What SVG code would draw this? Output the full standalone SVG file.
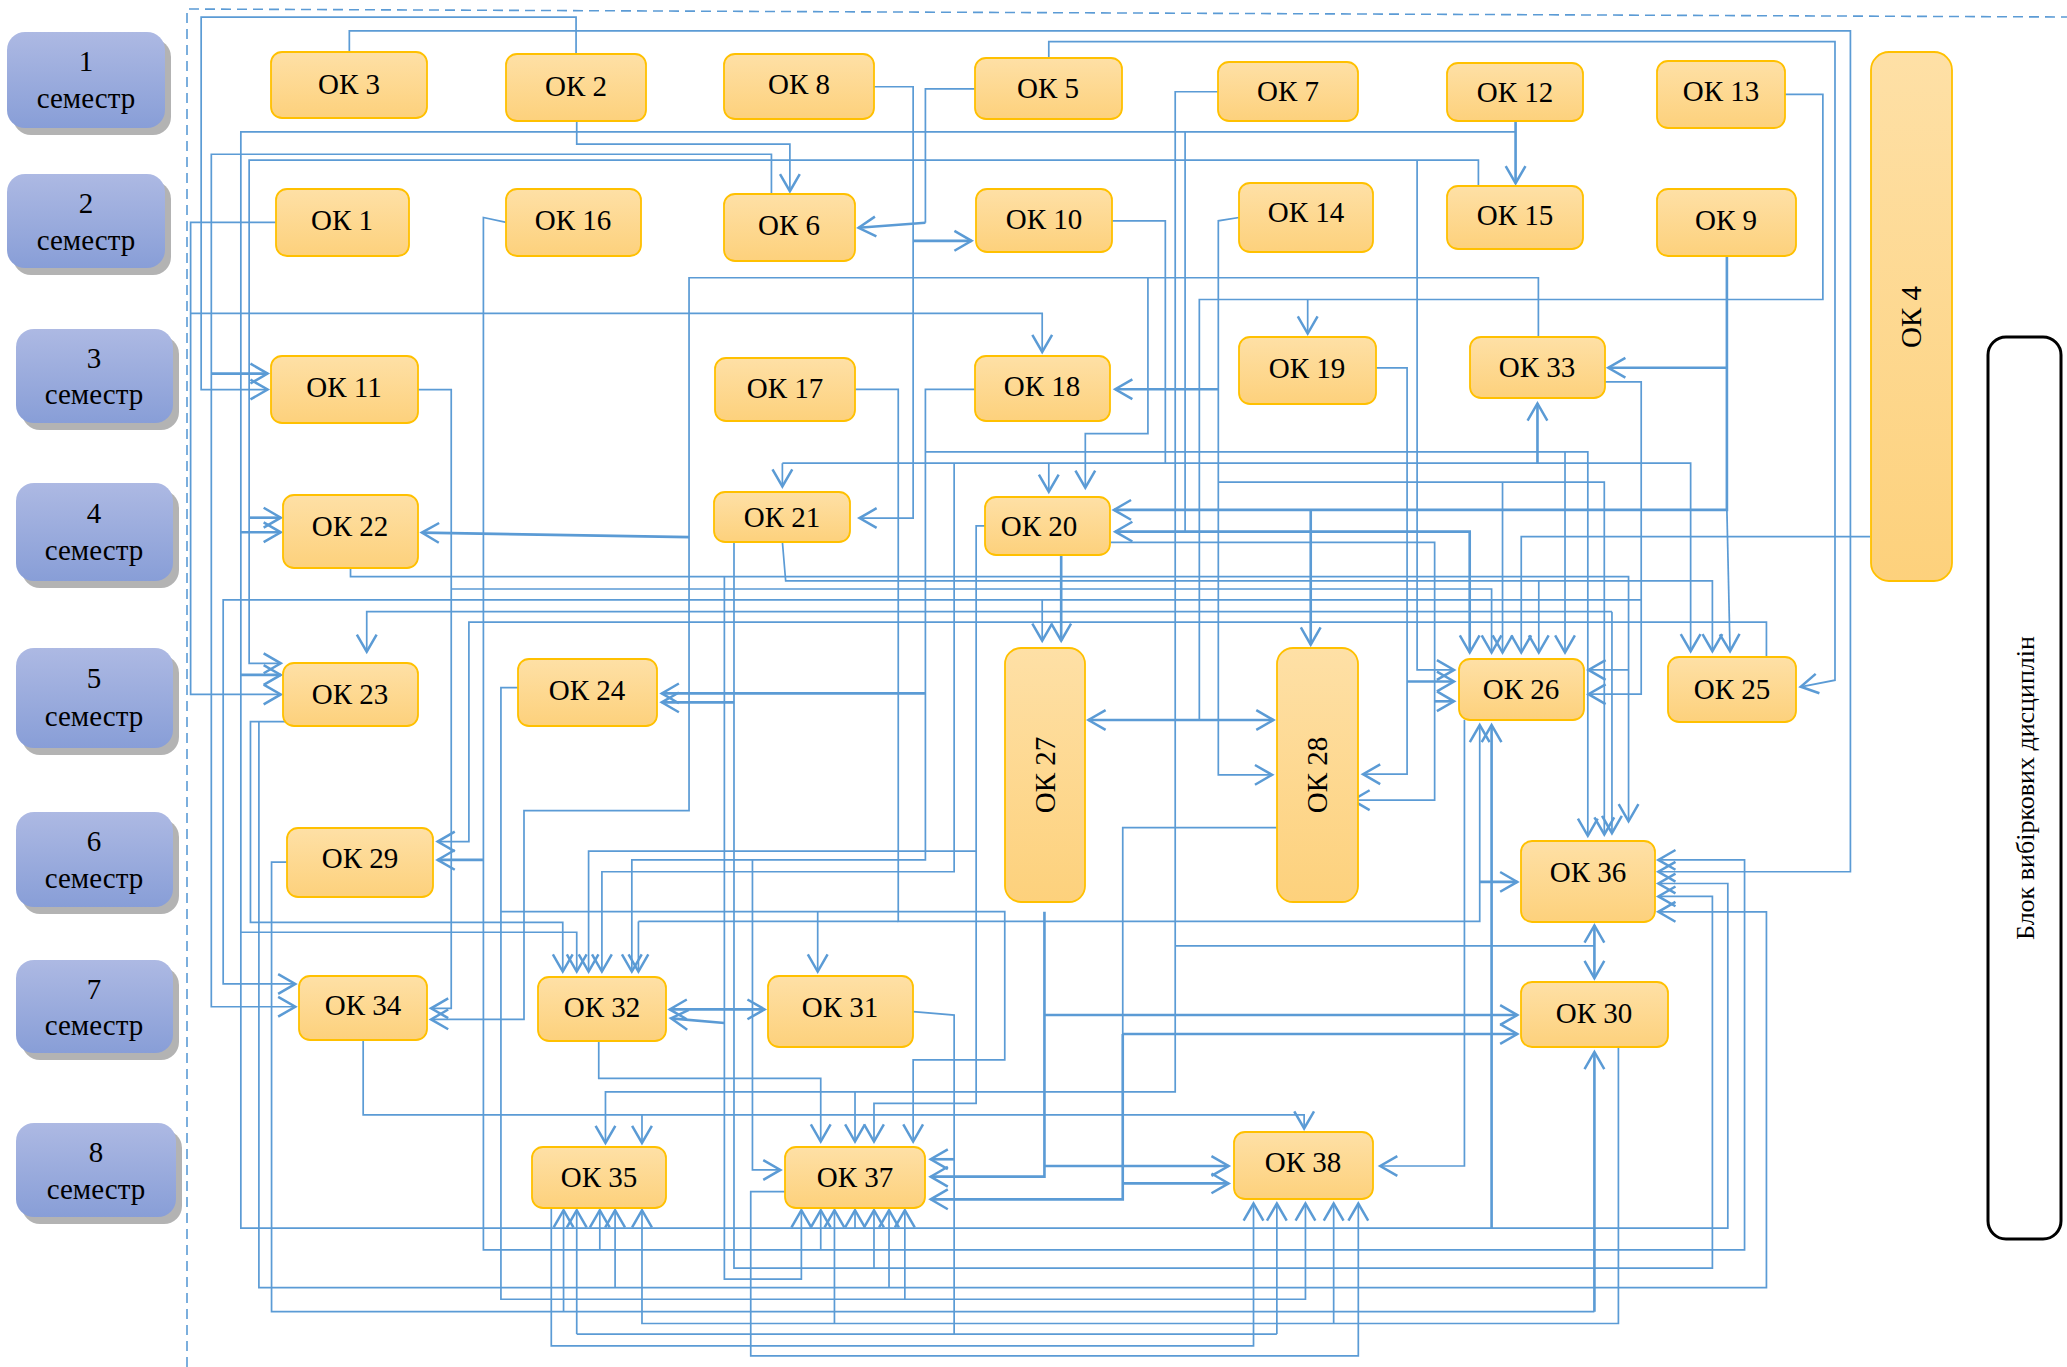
<svg xmlns="http://www.w3.org/2000/svg" width="2067" height="1367" viewBox="0 0 2067 1367">
<defs>
<linearGradient id="gN" x1="0" y1="0" x2="0" y2="1"><stop offset="0" stop-color="#fee0a6"/><stop offset="1" stop-color="#fdd17c"/></linearGradient>
<linearGradient id="gS" x1="0" y1="0" x2="0" y2="1"><stop offset="0" stop-color="#adb9e3"/><stop offset="1" stop-color="#889ed7"/></linearGradient>
<marker id="ah" markerUnits="userSpaceOnUse" markerWidth="18" markerHeight="20" viewBox="-15 -10 18 20" refX="0" refY="0" orient="auto" overflow="visible"><path d="M-13,-7.5 L0,0 L-13,7.5" fill="none" stroke="#5b9bd5" stroke-width="1.9"/></marker>
<marker id="as" markerUnits="userSpaceOnUse" markerWidth="18" markerHeight="20" viewBox="-15 -10 18 20" refX="0" refY="0" orient="auto-start-reverse" overflow="visible"><path d="M-13,-7.5 L0,0 L-13,7.5" fill="none" stroke="#5b9bd5" stroke-width="1.9"/></marker>
</defs>
<style>
.sh{fill:#b3b3b3}
.sb{fill:url(#gS)}
.st{font-family:"Liberation Serif","Times New Roman",serif;font-size:29px;fill:#000;text-anchor:middle}
.n{fill:url(#gN);stroke:#ffc000;stroke-width:1.8}
.tx{font-family:"Liberation Serif","Times New Roman",serif;font-size:29px;fill:#000;text-anchor:middle}
.l{fill:none;stroke:#5b9bd5;stroke-width:1.3}
.t{fill:none;stroke:#5b9bd5;stroke-width:2}
.a{marker-end:url(#ah)}
.b{marker-start:url(#as)}
</style>
<rect width="2067" height="1367" fill="#fff"/>
<!-- dashed frame -->
<path d="M187,1367 V9 L2067,17" fill="none" stroke="#5b9bd5" stroke-width="1.6" stroke-dasharray="10,6"/>
<!-- semesters -->
<g id="sem1"><rect class="sh" x="13" y="39" width="158" height="96" rx="18"/><rect class="sb" x="7" y="32" width="158" height="96" rx="18"/><text class="st" x="86" y="71">1</text><text class="st" x="86" y="108">семестр</text></g>
<g id="sem2"><rect class="sh" x="13" y="181" width="158" height="94" rx="18"/><rect class="sb" x="7" y="174" width="158" height="94" rx="18"/><text class="st" x="86" y="213">2</text><text class="st" x="86" y="250">семестр</text></g>
<g id="sem3"><rect class="sh" x="22" y="336" width="157" height="94" rx="18"/><rect class="sb" x="16" y="329" width="157" height="94" rx="18"/><text class="st" x="94" y="368">3</text><text class="st" x="94" y="404">семестр</text></g>
<g id="sem4"><rect class="sh" x="22" y="490" width="157" height="98" rx="18"/><rect class="sb" x="16" y="483" width="157" height="98" rx="18"/><text class="st" x="94" y="523">4</text><text class="st" x="94" y="560">семестр</text></g>
<g id="sem5"><rect class="sh" x="22" y="655" width="157" height="100" rx="18"/><rect class="sb" x="16" y="648" width="157" height="100" rx="18"/><text class="st" x="94" y="688">5</text><text class="st" x="94" y="726">семестр</text></g>
<g id="sem6"><rect class="sh" x="22" y="819" width="157" height="95" rx="18"/><rect class="sb" x="16" y="812" width="157" height="95" rx="18"/><text class="st" x="94" y="851">6</text><text class="st" x="94" y="888">семестр</text></g>
<g id="sem7"><rect class="sh" x="22" y="967" width="157" height="93" rx="18"/><rect class="sb" x="16" y="960" width="157" height="93" rx="18"/><text class="st" x="94" y="999">7</text><text class="st" x="94" y="1035">семестр</text></g>
<g id="sem8"><rect class="sh" x="22" y="1130" width="160" height="94" rx="18"/><rect class="sb" x="16" y="1123" width="160" height="94" rx="18"/><text class="st" x="96" y="1162">8</text><text class="st" x="96" y="1199">семестр</text></g>
<!-- elective block -->
<g id="block"><rect x="1988" y="337" width="73" height="902" rx="18" fill="#fff" stroke="#000" stroke-width="3"/><text class="tx" style="font-size:26px" transform="translate(2034,788) rotate(-90)">Блок вибіркових  дисциплін</text></g>
<!-- connectors -->
<g id="connectors" transform="scale(1.31824)">
<path class="l a" d="M437,41 V13 H152.6 V295.5 H203"/>
<path class="l a" d="M265,39 V23.5 H1403.7 V661.3 H1258"/>
<path class="l a" d="M795.6,44 V31.6 H1392 V516 L1366,521"/>
<path class="l a" d="M437.5,91.6 V109.3 H599.2 V145"/>
<path class="t a" d="M1149.7,91.6 V139"/>
<path class="l a" d="M1149.7,100 H182.7 V931.7 H1310.7 V670.2 H1258"/>
<path class="t a" d="M182.7,403.8 H213"/>
<path class="t a" d="M182.7,512 H213"/>
<path class="l a" d="M182.7,707.2 H437.5 V737"/>
<path class="t a" d="M1131.5,931.7 V550"/>
<path class="l a" d="M648.6,931.7 V918"/>
<path class="l" d="M899,100 V403.3"/>
<path class="l a" d="M585.2,147.5 V117 H160.3 V763.7 H224"/>
<path class="t a" d="M160.3,283.4 H203"/>
<path class="l a" d="M1121.5,141 V121.4 H189 V503.2 H213"/>
<path class="t a" d="M189,392.7 H213"/>
<path class="l a" d="M1075,121.4 V508.2 H1103"/>
<path class="l a" d="M210,168.7 H144.6 V526.8 H213"/>
<path class="l a" d="M144.6,237.8 H790.6 V267"/>
<path class="l a" d="M384,168.7 L366.7,165 V948.2 H1323.4 V652.3 H1258"/>
<path class="t a" d="M366.7,652.3 H332"/>
<path class="l a" d="M622.6,948.2 V918"/>
<path class="l a" d="M455,948.2 V918"/>
<path class="l a" d="M317,295.5 H342.3 V764.9 H327"/>
<path class="l a" d="M342.3,446.8 H1131.5 V495"/>
<path class="l a" d="M1167,256 V210.7 H522.7 V615 H397.5 V773.3 H327"/>
<path class="t a" d="M522.7,407.5 L320,404"/>
<path class="l a" d="M870.8,210.7 V328.9 H823.3 V370"/>
<path class="t a" d="M1310,194 V386.8 H845"/>
<path class="t a" d="M1310,279 H1220"/>
<path class="l a" d="M1310,386.8 L1312.4,494"/>
<path class="t a" d="M994.3,387 V489"/>
<path class="l" d="M1354,71.6 H1382.8 V227.2 H909.8 V546.2"/>
<path class="l a" d="M992,227.5 V253"/>
<path class="t a b" d="M825.7,546.2 H966"/>
<path class="l a" d="M663,65.8 H692.7 V393 H652"/>
<path class="t a" d="M692.7,182.7 H737"/>
<path class="l" d="M739.5,67.5 H702 V169"/>
<path class="t a" d="M702,169 L651.3,172.8"/>
<path class="l a" d="M924.2,69.6 H891.5 V828.3 H459.3 V867"/>
<path class="l a" d="M648.6,828.3 V866"/>
<path class="l" d="M891.5,717.6 H1209.5"/>
<path class="t a b" d="M1209.5,742 V702"/>
<path class="l" d="M843.4,167.5 H884 V351.4"/>
<path class="l a" d="M593.5,351.4 H1282.5 V494"/>
<path class="l a" d="M593.5,351.4 V369"/>
<path class="l a" d="M795.6,351.4 V373"/>
<path class="t a" d="M1166.3,351.4 V306"/>
<path class="l a" d="M939.9,165 L924.2,167.5 V587.8 H965"/>
<path class="t a" d="M924.2,295.3 H846"/>
<path class="l a" d="M924.2,365.8 H1217 V633"/>
<path class="l a" d="M1139.8,365.8 V495"/>
<path class="l a" d="M1043.8,279 H1067.4 V587.3 H1034"/>
<path class="t a" d="M1067.4,517 H1103"/>
<path class="l a" d="M648.6,295.3 H681.4 V699 H1122.5 V550"/>
<path class="l" d="M484.3,699 H681.4"/>
<path class="l a" d="M484.3,699 V737"/>
<path class="t a" d="M1122.5,669 H1151"/>
<path class="l a" d="M739.5,295.3 H702 V652.3 H479.3 V737"/>
<path class="t a" d="M702,526 H502"/>
<path class="l a" d="M702,342.8 H1204.5 V634"/>
<path class="l a" d="M1187.2,342.8 V495"/>
<path class="l a" d="M556.8,411 V962 H1299 V680 H1258"/>
<path class="t a" d="M556.8,532.8 H502"/>
<path class="l a" d="M663,962 V918"/>
<path class="l a" d="M593.5,411 L596,440.7 H1299 V494"/>
<path class="l a" d="M1167.3,440.7 V495"/>
<path class="l a" d="M747.2,399 H740.5 V837 H663 V866"/>
<path class="l a" d="M740.5,645.6 H446.5 V737"/>
<path class="l a" d="M723.8,351.4 V661.3 H456.6 V737"/>
<path class="t a b" d="M1114.9,495 V403.3 H846"/>
<path class="l a" d="M842.4,411.4 H1088.3 V607 H1026"/>
<path class="t a" d="M1088.3,532 H1103"/>
<path class="l a" d="M1217,289.7 H1245 V526.6 H1205"/>
<path class="l a" d="M1245,455.1 H169.3 V746.4 H224"/>
<path class="l a" d="M790.6,455.1 V486"/>
<path class="t a" d="M805,421 V486"/>
<path class="l a" d="M265.9,431 V437.4 H1235.4 V623"/>
<path class="l a" d="M1235.4,508.2 H1205"/>
<path class="l a" d="M1222.8,464 H278.2 V494.4"/>
<path class="l a" d="M1222.8,464 V632"/>
<path class="l a" d="M1418.6,407 H1154 V495"/>
<path class="l a" d="M1340,498 V472 H355.7 V638.4 H332"/>
<path class="l a" d="M1110.9,546 V884.5 H1047"/>
<path class="t a" d="M792.3,691.7 V892.6 H706"/>
<path class="t a" d="M792.3,770 H1151"/>
<path class="t a" d="M792.3,884.5 H932"/>
<path class="l" d="M968.6,627.8 H851.7 V784.4"/>
<path class="t a" d="M851.7,784.4 V909.8 H706"/>
<path class="t a" d="M851.7,784.4 H1151"/>
<path class="t a" d="M851.7,897.7 H932"/>
<path class="l" d="M692.7,767.4 L723.8,770 V1012"/>
<path class="l" d="M437.5,1012 H968.6"/>
<path class="l a" d="M437.5,1012 V918"/>
<path class="l a" d="M968.6,1012 V913"/>
<path class="t a" d="M723.8,879.4 H706"/>
<path class="l a" d="M549.5,437.4 V970.4 H607.9 V918"/>
<path class="t a" d="M549.5,776 L509,772.5"/>
<path class="t a b" d="M508,765.7 H580"/>
<path class="l a" d="M454.2,789.7 V818 H622.6 V866"/>
<path class="l a" d="M275.5,789 V845.8 H989.3 V856"/>
<path class="l a" d="M487,845.8 V867"/>
<path class="l a" d="M397.5,521.7 H380 V985.6 H990.3 V913"/>
<path class="l a" d="M380,691.6 H762.2 V804 H692.7 V866"/>
<path class="l a" d="M620.3,691.6 V737"/>
<path class="l a" d="M686.4,985.6 V918"/>
<path class="l a" d="M570.8,652.3 V887.5 H592"/>
<path class="l a" d="M595.9,904 H569.5 V1028.6 H1030.4 V913"/>
<path class="l a" d="M418.2,916 V1021 H950.9 V913"/>
<path class="l" d="M217.8,654 H206 V995 H1209.5"/>
<path class="t a" d="M1209.5,995 V798"/>
<path class="l a" d="M427.5,995 V918"/>
<path class="l a" d="M217.8,547.4 H190 V699.7 H426.9 V737"/>
<path class="l a" d="M196.4,547.4 V976.7 H1340 V691.7 H1258"/>
<path class="l a" d="M466.6,976.7 V918"/>
<path class="l a" d="M674.4,976.7 V918"/>
<path class="l a" d="M1227.7,794.5 V1004 H487 V918"/>
<path class="l a" d="M633,1004 V918"/>
<path class="l a" d="M1011.7,1004 V913"/>
</g>
<!-- nodes -->
<g id="ok3"><rect class="n" x="271" y="52" width="156" height="66" rx="11"/><text class="tx" x="349" y="94">ОК 3</text></g>
<g id="ok2"><rect class="n" x="506" y="54" width="140" height="67" rx="11"/><text class="tx" x="576" y="96">ОК 2</text></g>
<g id="ok8"><rect class="n" x="724" y="54" width="150" height="65" rx="11"/><text class="tx" x="799" y="94">ОК 8</text></g>
<g id="ok5"><rect class="n" x="975" y="58" width="147" height="61" rx="11"/><text class="tx" x="1048" y="98">ОК 5</text></g>
<g id="ok7"><rect class="n" x="1218" y="62" width="140" height="59" rx="11"/><text class="tx" x="1288" y="101">ОК 7</text></g>
<g id="ok12"><rect class="n" x="1447" y="63" width="136" height="58" rx="11"/><text class="tx" x="1515" y="102">ОК 12</text></g>
<g id="ok13"><rect class="n" x="1657" y="61" width="128" height="67" rx="11"/><text class="tx" x="1721" y="101">ОК 13</text></g>
<g id="ok1"><rect class="n" x="276" y="189" width="133" height="67" rx="11"/><text class="tx" x="342" y="230">ОК 1</text></g>
<g id="ok16"><rect class="n" x="506" y="189" width="135" height="67" rx="11"/><text class="tx" x="573" y="230">ОК 16</text></g>
<g id="ok6"><rect class="n" x="724" y="194" width="131" height="67" rx="11"/><text class="tx" x="789" y="235">ОК 6</text></g>
<g id="ok10"><rect class="n" x="976" y="189" width="136" height="63" rx="11"/><text class="tx" x="1044" y="229">ОК 10</text></g>
<g id="ok14"><rect class="n" x="1239" y="183" width="134" height="69" rx="11"/><text class="tx" x="1306" y="222">ОК 14</text></g>
<g id="ok15"><rect class="n" x="1447" y="186" width="136" height="63" rx="11"/><text class="tx" x="1515" y="225">ОК 15</text></g>
<g id="ok9"><rect class="n" x="1657" y="189" width="139" height="67" rx="11"/><text class="tx" x="1726" y="230">ОК 9</text></g>
<g id="ok11"><rect class="n" x="271" y="356" width="147" height="67" rx="11"/><text class="tx" x="344" y="397">ОК 11</text></g>
<g id="ok17"><rect class="n" x="715" y="358" width="140" height="63" rx="11"/><text class="tx" x="785" y="398">ОК 17</text></g>
<g id="ok18"><rect class="n" x="975" y="356" width="135" height="65" rx="11"/><text class="tx" x="1042" y="396">ОК 18</text></g>
<g id="ok19"><rect class="n" x="1239" y="337" width="137" height="67" rx="11"/><text class="tx" x="1307" y="378">ОК 19</text></g>
<g id="ok33"><rect class="n" x="1470" y="337" width="135" height="61" rx="11"/><text class="tx" x="1537" y="377">ОК 33</text></g>
<g id="ok4"><rect class="n" x="1871" y="52" width="81" height="529" rx="18"/><text class="tx" transform="translate(1921,317) rotate(-90)">ОК 4</text></g>
<g id="ok22"><rect class="n" x="283" y="495" width="135" height="73" rx="11"/><text class="tx" x="350" y="536">ОК 22</text></g>
<g id="ok21"><rect class="n" x="714" y="492" width="136" height="50" rx="11"/><text class="tx" x="782" y="527">ОК 21</text></g>
<g id="ok20"><rect class="n" x="985" y="497" width="125" height="58" rx="11"/><text class="tx" x="1039" y="536">ОК 20</text></g>
<g id="ok23"><rect class="n" x="283" y="663" width="135" height="63" rx="11"/><text class="tx" x="350" y="704">ОК 23</text></g>
<g id="ok24"><rect class="n" x="518" y="659" width="139" height="67" rx="11"/><text class="tx" x="587" y="700">ОК 24</text></g>
<g id="ok26"><rect class="n" x="1459" y="659" width="125" height="61" rx="11"/><text class="tx" x="1521" y="699">ОК 26</text></g>
<g id="ok25"><rect class="n" x="1668" y="657" width="128" height="65" rx="11"/><text class="tx" x="1732" y="699">ОК 25</text></g>
<g id="ok27"><rect class="n" x="1005" y="648" width="80" height="254" rx="16"/><text class="tx" transform="translate(1055,775) rotate(-90)">ОК 27</text></g>
<g id="ok28"><rect class="n" x="1277" y="648" width="81" height="254" rx="16"/><text class="tx" transform="translate(1327,775) rotate(-90)">ОК 28</text></g>
<g id="ok29"><rect class="n" x="287" y="828" width="146" height="69" rx="11"/><text class="tx" x="360" y="868">ОК 29</text></g>
<g id="ok36"><rect class="n" x="1521" y="841" width="134" height="81" rx="11"/><text class="tx" x="1588" y="882">ОК 36</text></g>
<g id="ok34"><rect class="n" x="299" y="976" width="128" height="64" rx="11"/><text class="tx" x="363" y="1015">ОК 34</text></g>
<g id="ok32"><rect class="n" x="538" y="977" width="128" height="64" rx="11"/><text class="tx" x="602" y="1017">ОК 32</text></g>
<g id="ok31"><rect class="n" x="768" y="976" width="145" height="71" rx="11"/><text class="tx" x="840" y="1017">ОК 31</text></g>
<g id="ok30"><rect class="n" x="1521" y="982" width="147" height="65" rx="11"/><text class="tx" x="1594" y="1023">ОК 30</text></g>
<g id="ok35"><rect class="n" x="532" y="1147" width="134" height="61" rx="11"/><text class="tx" x="599" y="1187">ОК 35</text></g>
<g id="ok37"><rect class="n" x="785" y="1147" width="140" height="61" rx="11"/><text class="tx" x="855" y="1187">ОК 37</text></g>
<g id="ok38"><rect class="n" x="1234" y="1132" width="139" height="67" rx="11"/><text class="tx" x="1303" y="1172">ОК 38</text></g>
</svg>
